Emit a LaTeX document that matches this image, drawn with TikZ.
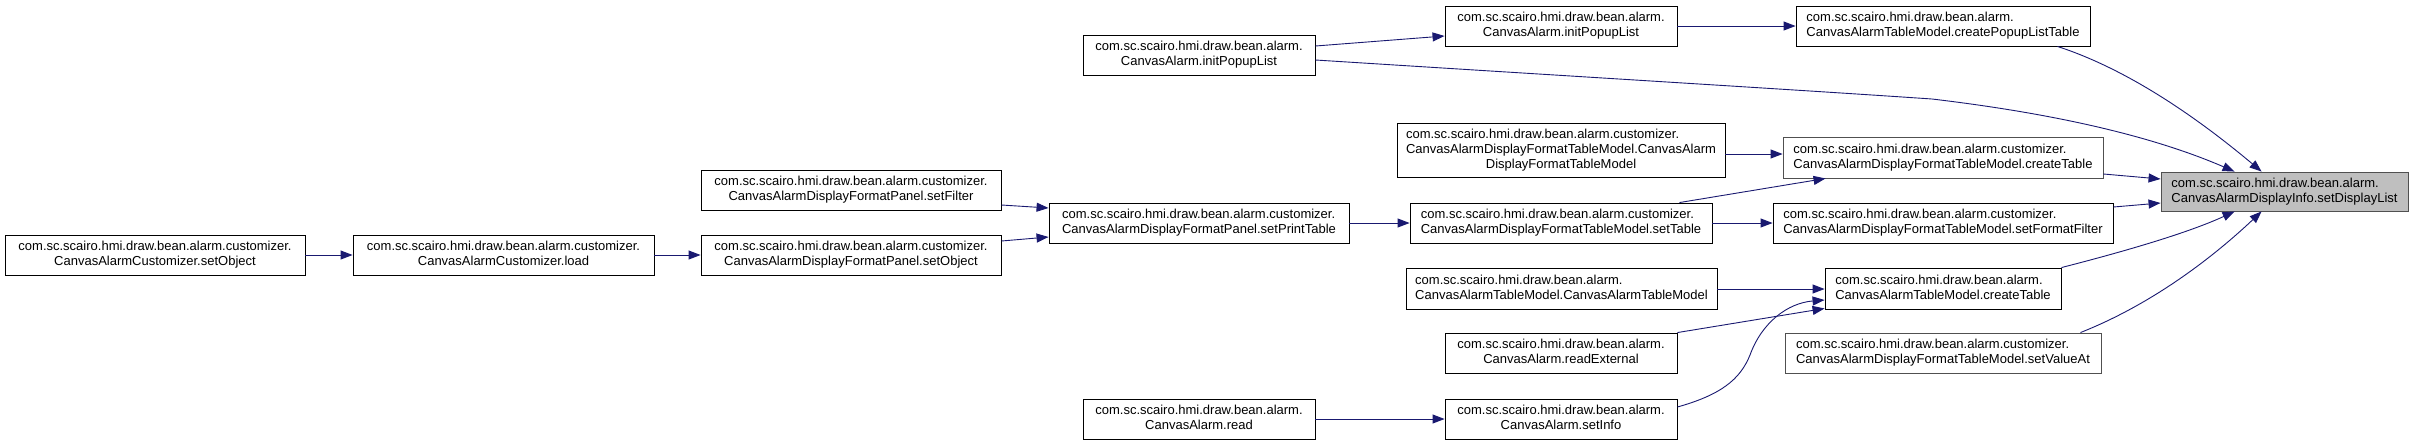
\documentclass[tikz,border=0pt]{standalone}
\usepackage{fontspec}
\setmainfont{Liberation Sans}
\usetikzlibrary{arrows.meta}
\definecolor{edgeblue}{HTML}{191970}
\definecolor{targetgray}{HTML}{BFBFBF}
\definecolor{boxgray}{HTML}{505050}
\newcommand{\dxtwo}[2]{\begin{tabular}{@{}l@{}}#1\\\multicolumn{1}{@{}c@{}}{#2}\end{tabular}}
\newcommand{\dxthree}[3]{\begin{tabular}{@{}l@{}}#1\\#2\\\multicolumn{1}{@{}c@{}}{#3}\end{tabular}}
\newcommand{\pkgc}{com.sc.scairo.hmi.draw.bean.alarm.customizer.}
\newcommand{\pkga}{com.sc.scairo.hmi.draw.bean.alarm.}
\begin{document}
\begin{tikzpicture}[x=1pt,y=-1pt,
  fnode/.style={draw=black, line width=0.9pt, fill=white, inner sep=0pt,
    minimum height=40pt, font=\fontsize{13}{15}\selectfont, text=black},
  targetnode/.style={fnode, draw=boxgray, fill=targetgray},
  callarrow/.style={draw=edgeblue, line width=0.9pt, -{Triangle[length=12pt,width=9pt]}}]
\useasboundingbox (0,0) rectangle (2413,445);

% nodes
\node[fnode, minimum width=300pt] (cso) at (155,255) {\dxtwo{\pkgc}{CanvasAlarmCustomizer.setObject}};
\node[fnode, minimum width=301pt] (cl) at (503.5,255) {\dxtwo{\pkgc}{CanvasAlarmCustomizer.load}};
\node[fnode, minimum width=300pt] (psf) at (851,190) {\dxtwo{\pkgc}{CanvasAlarmDisplayFormatPanel.setFilter}};
\node[fnode, minimum width=300pt] (pso) at (851,255) {\dxtwo{\pkgc}{CanvasAlarmDisplayFormatPanel.setObject}};
\node[fnode, minimum width=300pt] (ppt) at (1199,223) {\dxtwo{\pkgc}{CanvasAlarmDisplayFormatPanel.setPrintTable}};
\node[fnode, minimum width=232pt] (cipl) at (1199,55) {\dxtwo{\pkga}{CanvasAlarm.initPopupList}};
\node[fnode, minimum width=232pt] (crd) at (1199,419) {\dxtwo{\pkga}{CanvasAlarm.read}};
\node[fnode, minimum width=232pt] (cipm) at (1561,26) {\dxtwo{\pkga}{CanvasAlarm.initPopupList}};
\node[fnode, minimum width=328pt, minimum height=54pt] (dctor) at (1561,150) {\dxthree{\pkgc}{CanvasAlarmDisplayFormatTableModel.CanvasAlarm}{DisplayFormatTableModel}};
\node[fnode, minimum width=302pt] (dst) at (1561,223) {\dxtwo{\pkgc}{CanvasAlarmDisplayFormatTableModel.setTable}};
\node[fnode, minimum width=311pt, minimum height=41pt] (tctor) at (1561.5,288.5) {\dxtwo{\pkga}{CanvasAlarmTableModel.CanvasAlarmTableModel}};
\node[fnode, minimum width=232pt] (crx) at (1561,353) {\dxtwo{\pkga}{CanvasAlarm.readExternal}};
\node[fnode, minimum width=232pt] (csi) at (1561,419) {\dxtwo{\pkga}{CanvasAlarm.setInfo}};
\node[fnode, minimum width=294pt] (cplt) at (1943,26) {\dxtwo{\pkga}{CanvasAlarmTableModel.createPopupListTable}};
\node[fnode, draw=boxgray, minimum width=320pt, minimum height=41pt] (dct) at (1943,157.5) {\dxtwo{\pkgc}{CanvasAlarmDisplayFormatTableModel.createTable}};
\node[fnode, minimum width=340pt] (sff) at (1943,223) {\dxtwo{\pkgc}{CanvasAlarmDisplayFormatTableModel.setFormatFilter}};
\node[fnode, minimum width=236pt, minimum height=41pt] (tct) at (1943,288.5) {\dxtwo{\pkga}{CanvasAlarmTableModel.createTable}};
\node[fnode, draw=boxgray, minimum width=316pt] (sva) at (1943,353) {\dxtwo{\pkgc}{CanvasAlarmDisplayFormatTableModel.setValueAt}};
\node[targetnode, minimum width=247pt, minimum height=39pt] (sdl) at (2284.5,191.5) {\dxtwo{\pkga}{CanvasAlarmDisplayInfo.setDisplayList}};

% connectors
\draw[callarrow] (cso.east) -- (cl.west);
\draw[callarrow] (cl.east) -- (pso.west);
\draw[callarrow] ([yshift=-15pt]psf.east) -- ([yshift=15pt]ppt.west);
\draw[callarrow] ([yshift=14pt]pso.east) -- ([yshift=-14pt]ppt.west);
\draw[callarrow] (ppt.east) -- (dst.west);
\draw[callarrow] ([yshift=9pt]cipl.east) -- ([yshift=-10pt]cipm.west);
\draw[callarrow] ([yshift=-5pt]cipl.east) .. controls (1600,78) and (1800,90) .. (1932,99)
   .. controls (2050,113) and (2150,135) .. ([xshift=74pt]sdl.north west);
\draw[callarrow] (crd.east) -- (csi.west);
\draw[callarrow] (cipm.east) -- (cplt.west);
\draw[callarrow] ([yshift=-4pt]dctor.east) -- ([yshift=3.5pt]dct.west);
\draw[callarrow] ([xshift=-33pt]dst.north east) -- ([xshift=43pt]dct.south west);
\draw[callarrow] (dst.east) -- (sff.west);
\draw[callarrow] ([yshift=-0.5pt]tctor.east) -- ([yshift=-0.5pt]tct.west);
\draw[callarrow] (crx.north east) -- ([yshift=1pt]tct.south west);
\draw[callarrow] ([yshift=12pt]csi.east) .. controls (1720,395) and (1740,380) .. (1750,355)
   .. controls (1762,322) and (1788,303) .. ([yshift=-11.5pt]tct.west);
\draw[callarrow] ([xshift=-33pt]cplt.south east) .. controls (2130,70) and (2200,120) .. ([xshift=101pt]sdl.north west);
\draw[callarrow] ([yshift=-16.5pt]dct.east) -- ([yshift=12.5pt]sdl.west);
\draw[callarrow] ([yshift=16pt]sff.east) -- ([yshift=-11.5pt]sdl.west);
\draw[callarrow] (tct.north east) .. controls (2130,250) and (2190,232) .. ([xshift=74pt]sdl.south west);
\draw[callarrow] ([xshift=-21pt]sva.north east) .. controls (2150,305) and (2210,260) .. ([xshift=101pt]sdl.south west);
\end{tikzpicture}
\end{document}
